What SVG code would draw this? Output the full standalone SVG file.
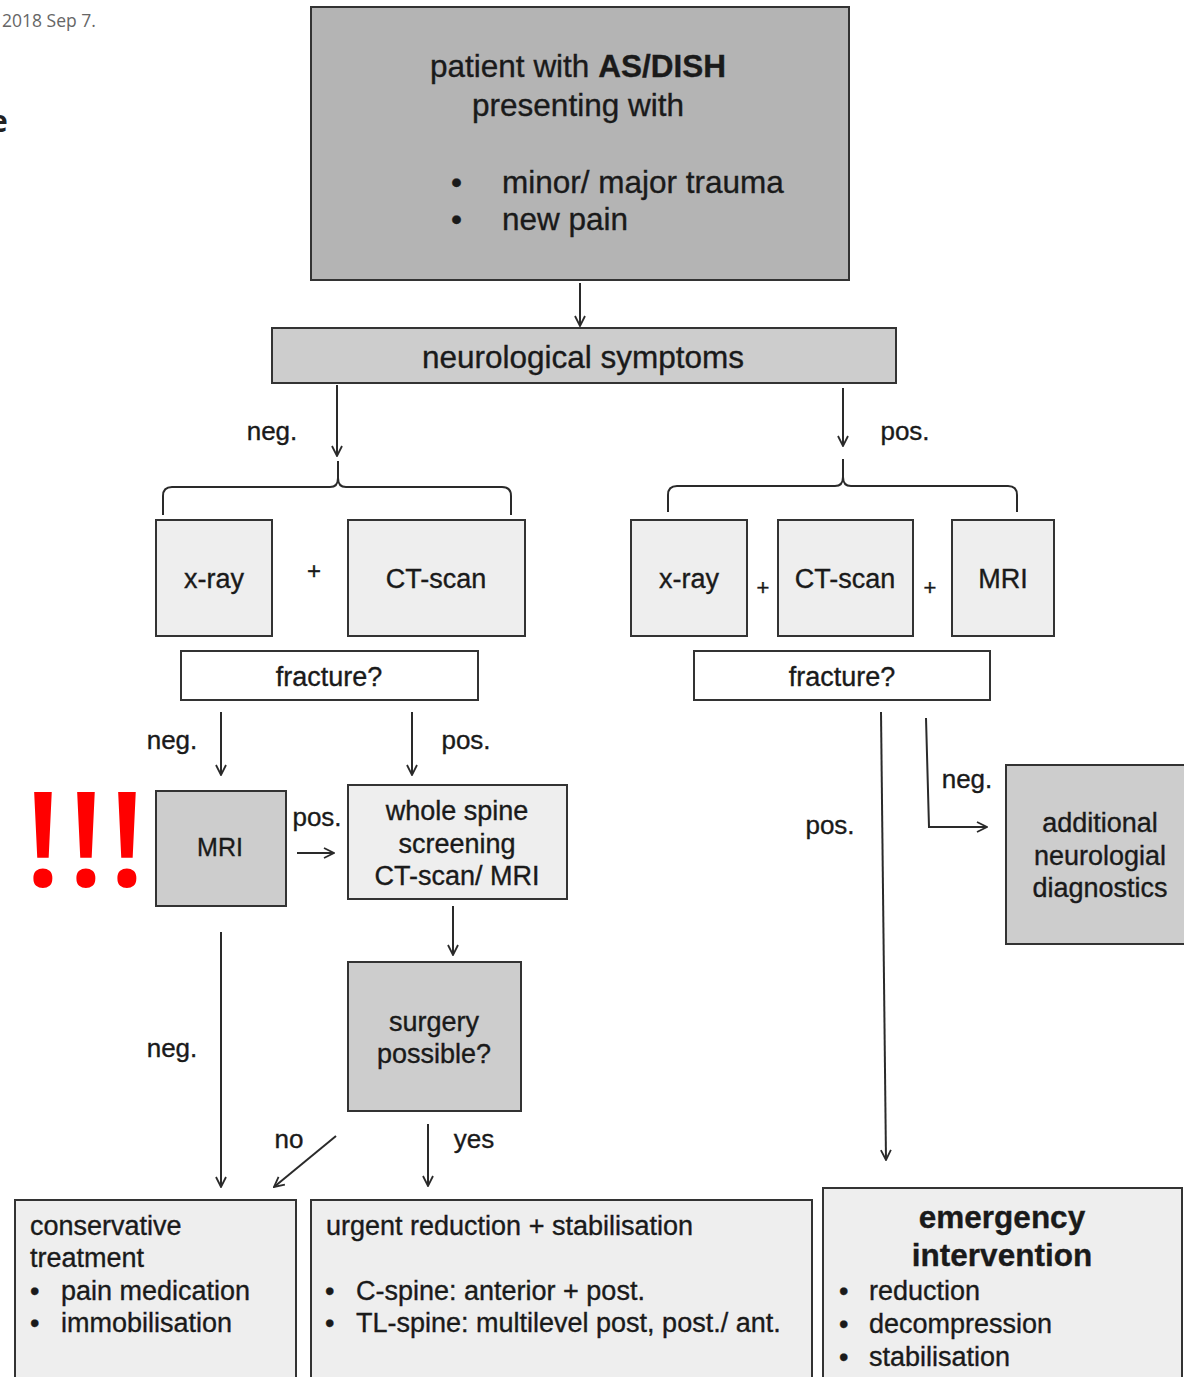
<svg xmlns="http://www.w3.org/2000/svg" width="1184" height="1377" viewBox="0 0 1184 1377">
<defs>
<style>
.t{font-family:"Liberation Sans",Arial,sans-serif;fill:#1a1a1a;stroke:#1a1a1a;stroke-width:0.35}
.box{stroke:#333;stroke-width:2}
.dk{fill:#b4b4b4}
.md{fill:#cdcdcd}
.lt{fill:#eeeeee}
.wh{fill:#ffffff}
.ln{fill:none;stroke:#2a2a2a;stroke-width:2}
.ex{font-family:"Open Sans","Liberation Sans",sans-serif;font-size:132px;font-weight:600;fill:#ff0000}
</style>
<marker id="ah" viewBox="0 0 12 12" refX="11" refY="6" markerWidth="12" markerHeight="12" markerUnits="userSpaceOnUse" orient="auto">
<path d="M1,1 L11,6 L1,11" fill="none" stroke="#2a2a2a" stroke-width="1.8"/>
</marker>
</defs>
<rect width="1184" height="1377" fill="#ffffff"/>
<text x="2" y="27" font-family="'Open Sans',sans-serif" font-size="17.5" fill="#666">2018 Sep 7.</text>
<text x="-10" y="132" font-family="'Open Sans',sans-serif" font-size="30" font-weight="bold" fill="#222">e</text>

<g id="n-top">
<rect class="box dk" x="311" y="7" width="538" height="273"/>
<text class="t" x="578" y="77" font-size="31.5" text-anchor="middle">patient with <tspan font-weight="bold">AS/DISH</tspan></text>
<text class="t" x="578" y="116" font-size="31.5" text-anchor="middle">presenting with</text>
<text class="t" x="451" y="193" font-size="31.5">•</text>
<text class="t" x="502" y="193" font-size="31.5">minor/ major trauma</text>
<text class="t" x="451" y="230" font-size="31.5">•</text>
<text class="t" x="502" y="230" font-size="31.5">new pain</text>
</g>

<g id="n-neuro">
<rect class="box md" x="272" y="328" width="624" height="55"/>
<text class="t" x="583" y="368" font-size="31.5" text-anchor="middle">neurological symptoms</text>
</g>

<g id="n-xray-l"><rect class="box lt" x="156" y="520" width="116" height="116"/><text class="t" x="214" y="588" font-size="27" text-anchor="middle">x-ray</text></g>
<g id="n-ct-l"><rect class="box lt" x="348" y="520" width="177" height="116"/><text class="t" x="436" y="588" font-size="27" text-anchor="middle">CT-scan</text></g>
<text class="t" x="314" y="579" font-size="24" text-anchor="middle">+</text>

<g id="n-xray-r"><rect class="box lt" x="631" y="520" width="116" height="116"/><text class="t" x="689" y="588" font-size="27" text-anchor="middle">x-ray</text></g>
<g id="n-ct-r"><rect class="box lt" x="778" y="520" width="135" height="116"/><text class="t" x="845" y="588" font-size="27" text-anchor="middle">CT-scan</text></g>
<g id="n-mri-r"><rect class="box lt" x="952" y="520" width="102" height="116"/><text class="t" x="1003" y="588" font-size="27" text-anchor="middle">MRI</text></g>
<text class="t" x="763" y="595" font-size="22" text-anchor="middle">+</text>
<text class="t" x="930" y="595" font-size="22" text-anchor="middle">+</text>

<g id="n-frac-l"><rect class="box wh" x="181" y="651" width="297" height="49"/><text class="t" x="329" y="686" font-size="27" text-anchor="middle">fracture?</text></g>
<g id="n-frac-r"><rect class="box wh" x="694" y="651" width="296" height="49"/><text class="t" x="842" y="686" font-size="27" text-anchor="middle">fracture?</text></g>

<g id="n-mri"><rect class="box md" x="156" y="791" width="130" height="115"/><text class="t" x="220" y="856" font-size="25" text-anchor="middle">MRI</text></g>
<g id="excl">
<text class="ex" x="43" y="886" text-anchor="middle">!</text>
<text class="ex" x="86" y="886" text-anchor="middle">!</text>
<text class="ex" x="127" y="886" text-anchor="middle">!</text>
</g>

<g id="n-whole"><rect class="box lt" x="348" y="785" width="219" height="114"/>
<text class="t" x="457" y="820" font-size="27" text-anchor="middle">whole spine</text>
<text class="t" x="457" y="853" font-size="27" text-anchor="middle">screening</text>
<text class="t" x="457" y="885" font-size="27" text-anchor="middle">CT-scan/ MRI</text></g>

<g id="n-surgery"><rect class="box md" x="348" y="962" width="173" height="149"/>
<text class="t" x="434" y="1031" font-size="27" text-anchor="middle">surgery</text>
<text class="t" x="434" y="1063" font-size="27" text-anchor="middle">possible?</text></g>

<g id="n-additional"><rect class="box md" x="1006" y="765" width="182" height="179"/>
<text class="t" x="1100" y="832" font-size="27" text-anchor="middle">additional</text>
<text class="t" x="1100" y="865" font-size="27" text-anchor="middle">neurologial</text>
<text class="t" x="1100" y="897" font-size="27" text-anchor="middle">diagnostics</text></g>

<g id="n-conservative"><rect class="box lt" x="15" y="1200" width="281" height="190"/>
<text class="t" x="30" y="1235" font-size="27">conservative</text>
<text class="t" x="30" y="1267" font-size="27">treatment</text>
<text class="t" x="30" y="1300" font-size="27">•</text><text class="t" x="61" y="1300" font-size="27">pain medication</text>
<text class="t" x="30" y="1332" font-size="27">•</text><text class="t" x="61" y="1332" font-size="27">immobilisation</text></g>

<g id="n-urgent"><rect class="box lt" x="311" y="1200" width="501" height="190"/>
<text class="t" x="326" y="1235" font-size="27">urgent reduction + stabilisation</text>
<text class="t" x="325" y="1300" font-size="27">•</text><text class="t" x="356" y="1300" font-size="27">C-spine: anterior + post.</text>
<text class="t" x="325" y="1332" font-size="27">•</text><text class="t" x="356" y="1332" font-size="27">TL-spine: multilevel post, post./ ant.</text></g>

<g id="n-emergency"><rect class="box lt" x="823" y="1188" width="359" height="200"/>
<text class="t" x="1002" y="1228" font-size="31.5" font-weight="bold" text-anchor="middle">emergency</text>
<text class="t" x="1002" y="1266" font-size="31.5" font-weight="bold" text-anchor="middle">intervention</text>
<text class="t" x="839" y="1300" font-size="27">•</text><text class="t" x="869" y="1300" font-size="27">reduction</text>
<text class="t" x="839" y="1333" font-size="27">•</text><text class="t" x="869" y="1333" font-size="27">decompression</text>
<text class="t" x="839" y="1366" font-size="27">•</text><text class="t" x="869" y="1366" font-size="27">stabilisation</text></g>

<g id="connectors">
<line class="ln" x1="580" y1="283" x2="580" y2="326" marker-end="url(#ah)"/>
<line class="ln" x1="337" y1="385" x2="337" y2="456" marker-end="url(#ah)"/>
<line class="ln" x1="843" y1="388" x2="843" y2="446" marker-end="url(#ah)"/>
<path class="ln" d="M163,515 L163,496 Q163,487 172,487 L330,487 Q338,487 338,478 L338,461 M338,478 Q338,487 346,487 L502,487 Q511,487 511,496 L511,515"/>
<path class="ln" d="M668,512 L668,495 Q668,486 677,486 L835,486 Q843,486 843,477 L843,459 M843,477 Q843,486 851,486 L1008,486 Q1017,486 1017,495 L1017,512"/>
<line class="ln" x1="221" y1="712" x2="221" y2="775" marker-end="url(#ah)"/>
<line class="ln" x1="412" y1="712" x2="412" y2="775" marker-end="url(#ah)"/>
<line class="ln" x1="297" y1="853" x2="334" y2="853" marker-end="url(#ah)"/>
<line class="ln" x1="453" y1="906" x2="453" y2="955" marker-end="url(#ah)"/>
<line class="ln" x1="221" y1="932" x2="221" y2="1187" marker-end="url(#ah)"/>
<line class="ln" x1="336" y1="1136" x2="274" y2="1187" marker-end="url(#ah)"/>
<line class="ln" x1="428" y1="1124" x2="428" y2="1186" marker-end="url(#ah)"/>
<line class="ln" x1="881" y1="712" x2="886" y2="1160" marker-end="url(#ah)"/>
<path class="ln" d="M926,718 L929,827 L987,827" marker-end="url(#ah)"/>
</g>

<g id="labels">
<text class="t" x="272" y="440" font-size="26" text-anchor="middle">neg.</text>
<text class="t" x="905" y="440" font-size="26" text-anchor="middle">pos.</text>
<text class="t" x="172" y="749" font-size="26" text-anchor="middle">neg.</text>
<text class="t" x="466" y="749" font-size="26" text-anchor="middle">pos.</text>
<text class="t" x="317" y="826" font-size="26" text-anchor="middle">pos.</text>
<text class="t" x="172" y="1057" font-size="26" text-anchor="middle">neg.</text>
<text class="t" x="289" y="1148" font-size="26" text-anchor="middle">no</text>
<text class="t" x="474" y="1148" font-size="26" text-anchor="middle">yes</text>
<text class="t" x="830" y="834" font-size="26" text-anchor="middle">pos.</text>
<text class="t" x="967" y="788" font-size="26" text-anchor="middle">neg.</text>
</g>
</svg>
